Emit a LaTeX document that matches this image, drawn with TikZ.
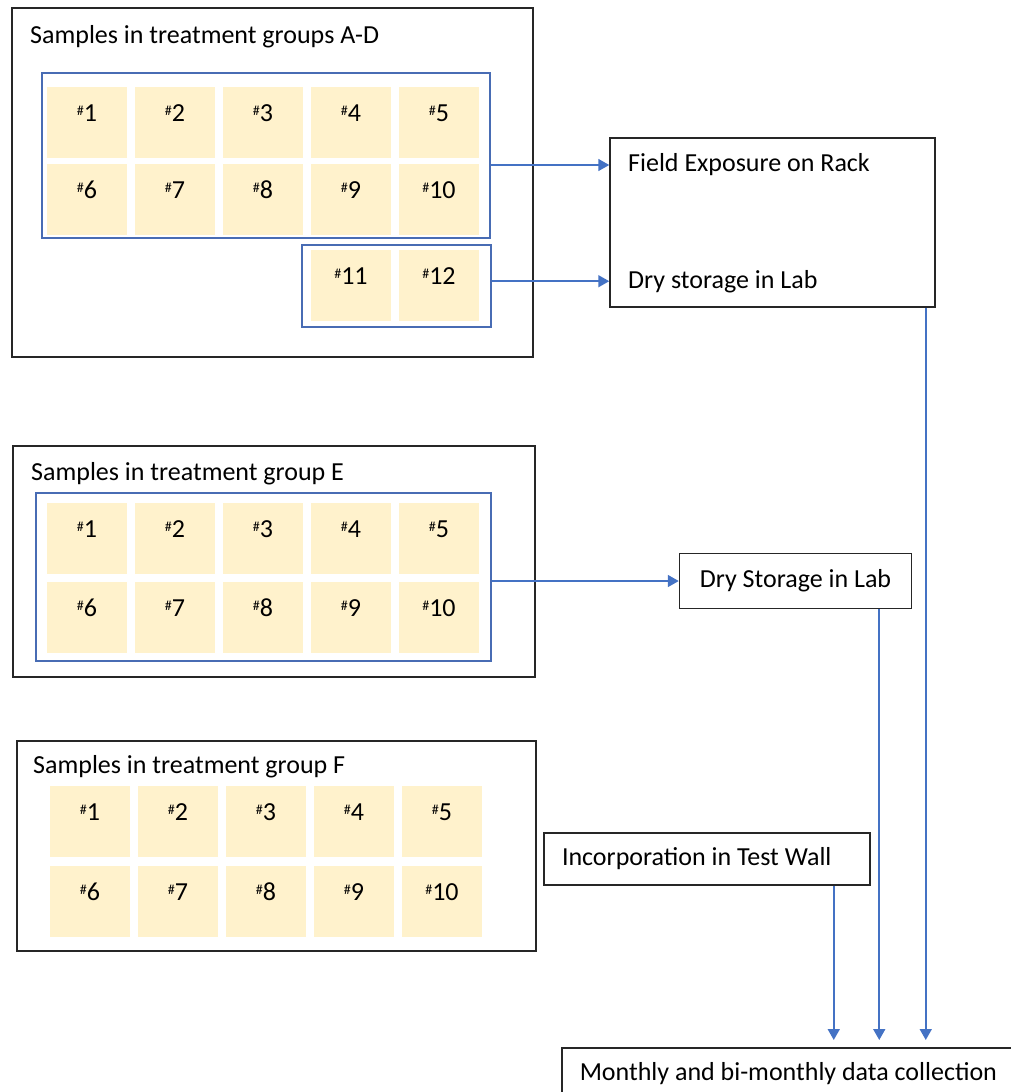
\documentclass[tikz,border=0pt]{standalone}
\usepackage{fontspec}
\setmainfont{Carlito}
\usetikzlibrary{arrows.meta,positioning}

\definecolor{cellfill}{HTML}{FFF2CC}
\definecolor{grpblue}{RGB}{72,108,180}
\definecolor{flowblue}{RGB}{68,114,196}

\newcommand{\smp}[1]{\raisebox{6pt}{\fontsize{14}{14}\selectfont\#}#1}

\begin{document}
\begin{tikzpicture}[x=1pt,y=-1pt,>={Triangle[length=11pt,width=12pt]},node distance=88pt,
      every node/.style={font=\fontsize{26}{31}\selectfont},
      box/.style={draw=black!85,line width=1.5pt,inner sep=0pt},
      grp/.style={draw=grpblue,line width=1.5pt,inner sep=0pt},
      cell/.style={fill=cellfill,minimum width=80pt,minimum height=71pt,inner sep=0pt,
        text height=18pt,text depth=20pt},
      title/.style={anchor=base west,inner sep=0pt},
      flow/.style={->,draw=flowblue,line width=1.7pt}]
      \useasboundingbox (0,0) rectangle (1011,1092);
      \clip (0,0) rectangle (1011,1092);

      % groups A-D
      \node[box,minimum width=521pt,minimum height=349pt] (boxAD) at (272.5,182.5) {};
      \node[title] (tAD) at (30,43) {Samples in treatment groups A-D};
      \node[grp,minimum width=448pt,minimum height=165pt] (grpAD) at (266,155.5) {};
      \node[cell] (ad1) at (87,122.5) {\smp{1}};
      \node[cell] (ad2) [right of=ad1] {\smp{2}};
      \node[cell] (ad3) [right of=ad2] {\smp{3}};
      \node[cell] (ad4) [right of=ad3] {\smp{4}};
      \node[cell] (ad5) [right of=ad4] {\smp{5}};
      \node[cell] (ad6) [node distance=77pt,below of=ad1] {\smp{6}};
      \node[cell] (ad7) [right of=ad6] {\smp{7}};
      \node[cell] (ad8) [right of=ad7] {\smp{8}};
      \node[cell] (ad9) [right of=ad8] {\smp{9}};
      \node[cell] (ad10) [right of=ad9] {\smp{10}};
      \node[grp,minimum width=189pt,minimum height=82pt] (grpS) at (396.5,286) {};
      \node[cell] (ad11) at (351,285) {\smp{11}};
      \node[cell] (ad12) [right of=ad11] {\smp{12}};

      % group E
      \node[box,minimum width=522pt,minimum height=231pt] (boxE) at (274,561.5) {};
      \node[title] (tE) at (31,480) {Samples in treatment group E};
      \node[grp,minimum width=455pt,minimum height=168pt] (grpE) at (263.5,577) {};
      \node[cell] (e1) at (87,538.5) {\smp{1}};
      \node[cell] (e2) [right of=e1] {\smp{2}};
      \node[cell] (e3) [right of=e2] {\smp{3}};
      \node[cell] (e4) [right of=e3] {\smp{4}};
      \node[cell] (e5) [right of=e4] {\smp{5}};
      \node[cell] (e6) [node distance=78.5pt,below of=e1] {\smp{6}};
      \node[cell] (e7) [right of=e6] {\smp{7}};
      \node[cell] (e8) [right of=e7] {\smp{8}};
      \node[cell] (e9) [right of=e8] {\smp{9}};
      \node[cell] (e10) [right of=e9] {\smp{10}};

      % group F
      \node[box,minimum width=519pt,minimum height=210pt] (boxF) at (276.5,846) {};
      \node[title] (tF) at (33,773) {Samples in treatment group F};
      \node[cell] (f1) at (90,821.5) {\smp{1}};
      \node[cell] (f2) [right of=f1] {\smp{2}};
      \node[cell] (f3) [right of=f2] {\smp{3}};
      \node[cell] (f4) [right of=f3] {\smp{4}};
      \node[cell] (f5) [right of=f4] {\smp{5}};
      \node[cell] (f6) [node distance=80pt,below of=f1] {\smp{6}};
      \node[cell] (f7) [right of=f6] {\smp{7}};
      \node[cell] (f8) [right of=f7] {\smp{8}};
      \node[cell] (f9) [right of=f8] {\smp{9}};
      \node[cell] (f10) [right of=f9] {\smp{10}};

      % treatments
      \node[box,minimum width=325pt,minimum height=169pt] (rack) at (772.5,222.5) {};
      \node[title,anchor=west] (fer) at (628,165) {Field Exposure on Rack};
      \node[title] (dsl) at (628,288) {Dry storage in Lab};
      \node[box,minimum width=232pt,minimum height=55pt] (dryE) at (795.5,581) {Dry Storage in Lab};
      \node[box,minimum height=52pt,inner xsep=18pt] (wall) at (707,859) {\makebox[290pt][l]{Incorporation in Test Wall}};
      \node[box,minimum height=52pt,inner xsep=18pt,anchor=north west] (data) at (561,1047) {Monthly and bi-monthly data collection};

      \coordinate (rackout) at ([xshift=-10pt]rack.south east);
      \coordinate (dryout) at ([xshift=-33pt]dryE.south east);
      \coordinate (wallout) at ([xshift=-37pt]wall.south east);

      \draw[flow] (grpAD.east |- fer) -- (rack.west |- fer);
      \draw[flow] (grpS.east |- dsl) -- (rack.west |- dsl);
      \draw[flow] (grpE.east |- dryE) -- (dryE.west);

      \draw[flow,shorten >=7pt] (rackout) -- (rackout |- data.north);
      \draw[flow,shorten >=7pt] (dryout) -- (dryout |- data.north);
      \draw[flow,shorten >=7pt] (wallout) -- (wallout |- data.north);
    \end{tikzpicture}
\end{document}
